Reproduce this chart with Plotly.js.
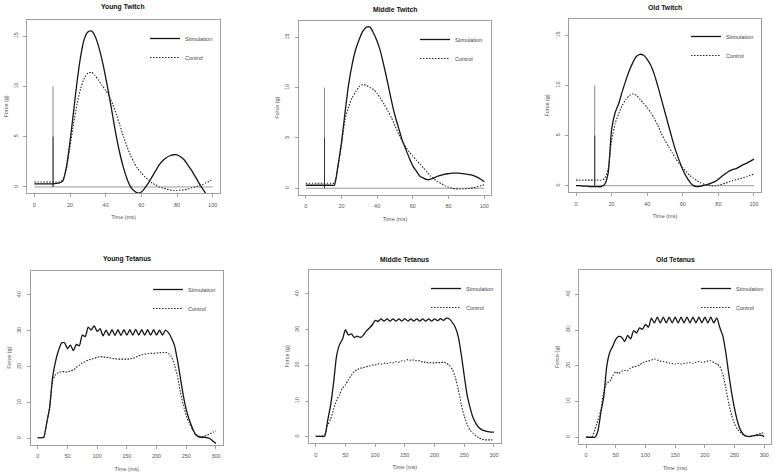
<!DOCTYPE html>
<html><head><meta charset="utf-8">
<script src="https://cdn.plot.ly/plotly-3.0.1.min.js"></script>
<style>html,body{margin:0;padding:0;background:#fff}</style>
</head><body><div id="chart" style="width:778px;height:474px"></div>
<script>
// ---------- data ----------
const twitchTime = [0,2,4,6,8,10,12,14,16,18,20,22,24,26,28,30,32,34,36,38,40,42,44,46,48,50,52,54,56,58,60,62,64,66,68,70,72,74,76,78,80,82,84,86,88,90,92,94,96,98,100];
const youngTwitchStim = [0.3,0.3,0.3,0.3,0.3,0.3,0.35,0.4,0.6,2.0,4.5,7.5,10.5,13.0,14.7,15.4,15.5,15.0,14.0,12.6,10.9,9.0,7.0,5.0,3.3,1.9,0.8,0.0,-0.4,-0.6,-0.5,-0.1,0.4,1.0,1.6,2.2,2.6,2.9,3.1,3.2,3.2,3.0,2.7,2.2,1.7,1.1,0.5,-0.1,-0.6,-1.1,-1.6];
const youngTwitchCtrl = [0.5,0.5,0.5,0.5,0.5,0.5,0.5,0.5,0.7,1.8,4.0,6.3,8.3,9.8,10.8,11.3,11.4,11.1,10.6,10.1,9.6,9.0,8.2,7.2,6.1,5.0,4.0,3.1,2.4,1.8,1.4,1.0,0.7,0.4,0.2,0.0,-0.1,-0.2,-0.3,-0.35,-0.35,-0.3,-0.3,-0.2,-0.1,0.0,0.1,0.2,0.4,0.55,0.75];
const middleTwitchStim = [0.3,0.3,0.3,0.3,0.3,0.3,0.3,0.3,0.3,2.2,4.5,7.5,10.3,12.3,13.8,14.8,15.6,16.0,16.0,15.4,14.6,13.5,12.0,10.4,8.7,7.2,6.0,4.8,3.9,3.0,2.2,1.7,1.2,1.0,0.85,0.9,1.05,1.2,1.3,1.4,1.45,1.5,1.5,1.5,1.45,1.4,1.35,1.25,1.1,0.9,0.65];
const middleTwitchCtrl = [0.5,0.5,0.5,0.5,0.5,0.5,0.5,0.5,0.5,2.0,4.3,6.8,8.1,9.0,9.6,10.1,10.3,10.2,10.0,9.8,9.4,8.9,8.3,7.7,7.0,6.2,5.4,4.7,4.1,3.6,3.2,2.8,2.4,2.0,1.6,1.2,0.9,0.65,0.45,0.25,0.1,0.0,-0.05,-0.07,-0.07,-0.05,0.0,0.05,0.15,0.25,0.35];
const oldTwitchStim = [0,0,-0.05,-0.05,-0.1,-0.1,-0.1,-0.1,0.1,1.2,5.6,7.3,8.2,9.4,10.5,11.5,12.3,12.9,13.1,13.0,12.6,12.0,11.1,9.9,8.6,7.3,6.0,4.7,3.5,2.5,1.6,0.9,0.35,0.0,-0.1,-0.05,0.05,0.12,0.25,0.4,0.65,0.95,1.2,1.45,1.6,1.7,1.9,2.1,2.25,2.45,2.65];
const oldTwitchCtrl = [0.55,0.55,0.55,0.55,0.55,0.55,0.55,0.55,0.7,1.6,4.5,6.2,7.2,8.0,8.6,9.0,9.15,9.0,8.6,8.2,7.8,7.3,6.7,6.0,5.2,4.5,3.9,3.3,2.7,2.2,1.8,1.4,1.0,0.75,0.5,0.3,0.15,0.05,0.0,-0.03,0.05,0.15,0.25,0.4,0.5,0.6,0.7,0.8,0.9,1.05,1.15];

const tetanusTime = [0,5,10,15,20,25,30,35,40,45,50,55,60,65,70,75,80,85,90,95,100,105,110,115,120,125,130,135,140,145,150,155,160,165,170,175,180,185,190,195,200,205,210,215,220,225,230,235,240,245,250,255,260,265,270,275,280,285,290,295,300];
const youngTetStim = [0.2,0.2,0.3,4.2,8.5,17,21.5,24.5,26.5,26.7,25,26,24.5,26.2,25.8,28.8,28.4,31,30.2,31.4,29.8,30.6,28.6,30.2,28.7,30.3,28.7,30.3,28.7,30.3,28.8,30.3,28.8,30.4,28.8,30.3,28.8,30.3,28.8,30.3,28.8,30.2,28.8,30.2,29.5,28,26,22,17,12,8,5.2,3,1.2,0.5,0.3,0.3,0.2,-0.1,-0.8,-1.4];
const youngTetCtrl = [0.2,0.2,0.3,4.2,8.5,16,17.8,18.4,18.6,18.6,18.5,18.8,19.1,19.8,20.4,21,21.4,21.8,22.1,22.3,22.6,22.8,22.7,22.6,22.5,22.3,22.2,22.1,22.1,22.1,22.1,22.2,22.3,22.6,23,23.3,23.5,23.6,23.7,23.7,23.8,23.9,23.9,24,23.7,22.8,20.5,17.5,13,9.3,6.3,4.3,2.6,1.3,0.7,0.5,0.6,0.9,1.3,1.7,2.1];
const middleTetStim = [0.1,0.1,0.1,0.1,4.5,8.8,15,22.5,25.8,27.3,30,28.5,28.8,27.8,28.2,27.8,28.4,29.6,30.4,31.3,32.6,32.3,33,32.4,33,32.4,33,32.4,33,32.4,33.1,32.4,33,32.4,33,32.4,33,32.4,33,32.4,33,32.5,33.1,32.6,33.2,33,32,30.6,28,23,17,11.5,8,5.2,3.6,2.5,1.9,1.6,1.4,1.3,1.3];
const middleTetCtrl = [0.1,0.1,0.1,0.5,3.2,4.9,7.6,10.2,11.8,13.6,14.5,16,17.2,18.3,18.8,19.2,19.3,19.6,19.8,20,20.1,20.4,20.3,20.6,20.5,20.8,20.7,21,20.9,21.3,21.2,21.6,21.4,21.5,21.2,21.3,20.9,20.9,20.6,20.8,20.6,20.8,20.7,20.9,20.6,20,18.8,16.6,13.1,9,5.8,3.4,1.8,0.9,0.2,-0.4,-0.7,-0.9,-0.9,-0.9,-0.9];
const oldTetStim = [0,0,0,0,1.8,7,11.5,20,23.8,25.5,27.4,28.2,28,26.8,28.5,27.5,29.8,29.2,30.6,30.2,31.6,30.8,33.3,32,33.6,32,33.6,32,33.6,32,33.6,32,33.6,32,33.6,32,33.6,32,33.6,32,33.6,32,33.6,32,33.4,30.8,28.5,24,18,12.5,8,4.4,2,0.8,0.3,0.2,0.4,0.5,0.6,0.5,0.2];
const oldTetCtrl = [0,0,0.1,2.2,4.8,7.6,13,15.2,15.6,17.3,18.3,17.8,18.5,18.7,18.6,19.4,19.7,19.9,20.2,20.8,21.2,21.3,21.6,21.9,21.6,21.3,21.2,21,20.8,20.6,20.5,20.7,20.5,20.6,20.8,20.9,20.7,21,21.2,21,21.1,21.3,21.4,20.9,20.5,19.8,17.8,14,9.6,6.2,3.8,2.2,1.3,0.6,0.3,0.2,0.4,0.6,0.9,1.1,1.3];

const artifactX = [10.5, 10.5];
const artifactHigh = [0, 10];
const artifactLow = [0, 5];
const baselineX = [0, 100];
const baselineY = [0, 0];

const panelTitles = ['Young Twitch','Middle Twitch','Old Twitch','Young Tetanus','Middle Tetanus','Old Tetanus'];
const seriesNames = ['Stimulation','Control'];
const twitchXTicks = [0,20,40,60,80,100];
const twitchYTicks = [0,5,10,15];
const tetanusXTicks = [0,50,100,150,200,250,300];
const tetanusYTicks = [0,10,20,30,40];

// ---------- layout geometry (pixels) ----------
const W = 778, H = 474;
const boxes = [
  [27.2, 219.8, 19.5, 193.4],
  [298.6, 491.4, 20.7, 194.7],
  [568.9, 761.1, 18.8, 192.1],
  [30.6, 223.1, 270.6, 444.8],
  [308.6, 501.1, 269.7, 443.1],
  [578.9, 771.4, 270.0, 443.7]
];
const legendPos = [[145, 24], [415, 25], [686, 22], [148, 275], [426, 274], [696, 274]];

const panels = [
  {stim: youngTwitchStim, ctrl: youngTwitchCtrl, t: twitchTime, twitch: true},
  {stim: middleTwitchStim, ctrl: middleTwitchCtrl, t: twitchTime, twitch: true},
  {stim: oldTwitchStim, ctrl: oldTwitchCtrl, t: twitchTime, twitch: true},
  {stim: youngTetStim, ctrl: youngTetCtrl, t: tetanusTime, twitch: false},
  {stim: middleTetStim, ctrl: middleTetCtrl, t: tetanusTime, twitch: false},
  {stim: oldTetStim, ctrl: oldTetCtrl, t: tetanusTime, twitch: false}
];

const traces = [];
const layout = {
  width: W, height: H,
  margin: {l: 0, r: 0, t: 0, b: 0},
  paper_bgcolor: '#fff', plot_bgcolor: '#fff',
  font: {family: 'Liberation Sans, Arial, sans-serif', color: '#555'},
  annotations: [],
  showlegend: true
};

panels.forEach((p, i) => {
  const n = i + 1;
  const xa = 'x' + (n === 1 ? '' : n), ya = 'y' + (n === 1 ? '' : n);
  const lg = 'legend' + (n === 1 ? '' : n);
  const b = boxes[i];
  if (p.twitch) {
    traces.push({x: baselineX, y: baselineY, xaxis: xa, yaxis: ya, mode: 'lines', line: {color: '#9a9a9a', width: 1}, showlegend: false, hoverinfo: 'skip'});
    traces.push({x: artifactX, y: artifactHigh, xaxis: xa, yaxis: ya, mode: 'lines', line: {color: '#8a8a8a', width: 1}, showlegend: false, hoverinfo: 'skip'});
    traces.push({x: artifactX, y: artifactLow, xaxis: xa, yaxis: ya, mode: 'lines', line: {color: '#333', width: 1}, showlegend: false, hoverinfo: 'skip'});
  }
  traces.push({x: p.t, y: p.stim, xaxis: xa, yaxis: ya, mode: 'lines', name: seriesNames[0], legend: lg,
    line: {color: '#151515', width: 1.3, shape: 'spline', smoothing: 0.6}});
  traces.push({x: p.t, y: p.ctrl, xaxis: xa, yaxis: ya, mode: 'lines', name: seriesNames[1], legend: lg,
    line: {color: '#222', width: 1.1, dash: '1.5px,1.5px', shape: 'spline', smoothing: 0.6}});

  const axCommon = {
    showline: true, mirror: true, linecolor: '#a0a0a0', linewidth: 1,
    ticks: 'outside', ticklen: 3, tickcolor: '#a0a0a0', tickwidth: 1,
    showgrid: false, zeroline: false, fixedrange: true,
    tickfont: {size: 5.5, color: '#555'}
  };
  layout['xaxis' + (n === 1 ? '' : n)] = Object.assign({}, axCommon, {
    domain: [b[0] / W, b[1] / W], anchor: ya,
    range: p.twitch ? [-4, 104] : [-12, 312],
    tickmode: 'array', tickvals: p.twitch ? twitchXTicks : tetanusXTicks,
    ticklabelstandoff: 3,
    title: {text: 'Time (ms)', font: {size: 5.5, color: '#555'}, standoff: 8}
  });
  layout['yaxis' + (n === 1 ? '' : n)] = Object.assign({}, axCommon, {
    domain: [1 - b[3] / H, 1 - b[2] / H], anchor: xa,
    range: p.twitch ? [-0.64, 16.64] : [-1.8, 46.8],
    tickmode: 'array', tickvals: p.twitch ? twitchYTicks : tetanusYTicks,
    tickangle: -90, ticklabelstandoff: 3,
    title: {text: 'Force (g)', font: {size: 5.5, color: '#555'}, standoff: 4}
  });
  layout[lg] = {
    x: legendPos[i][0] / W, y: 1 - legendPos[i][1] / H, xanchor: 'left', yanchor: 'top',
    bgcolor: 'rgba(0,0,0,0)', borderwidth: 0, font: {size: 5.5, color: '#444'},
    itemwidth: 30, tracegroupgap: 0
  };
  layout.annotations.push({
    text: panelTitles[i], xref: 'paper', yref: 'paper',
    x: (b[0] + b[1]) / 2 / W, y: 1 - (i < 3 ? (i === 1 ? 9.5 : 7.5) : 259) / H,
    xanchor: 'center', yanchor: 'middle', showarrow: false,
    font: {size: 6.8, color: '#111', weight: 'bold'}
  });
});

Plotly.newPlot('chart', traces, layout, {staticPlot: true, displayModeBar: false});
</script>
</body></html>
